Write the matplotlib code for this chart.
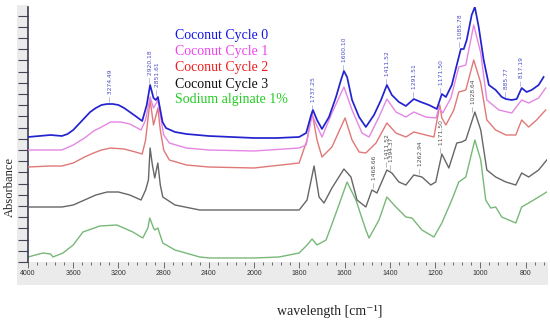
import numpy as np
import matplotlib
matplotlib.use("Agg")
import matplotlib.pyplot as plt
from matplotlib.patches import Rectangle
from matplotlib.ticker import FixedLocator, MultipleLocator, NullFormatter

# ---------------- data (absorbance, arbitrary stacked units) ----------------
wn_c0 = [4000, 3900, 3800, 3700, 3650, 3600, 3550, 3500, 3450, 3400, 3350, 3300, 3250, 3200,
         3150, 3100, 3050, 2990, 2950,
         2920, 2890, 2870, 2851, 2830, 2810, 2780, 2700, 2600, 2400, 2200, 2000, 1900,
         1801, 1770, 1748, 1740, 1722, 1700, 1669, 1638, 1616, 1603, 1589, 1567, 1536, 1506,
         1470, 1439, 1413, 1391, 1360, 1329, 1294, 1263, 1227, 1192, 1170, 1152, 1126, 1104,
         1086, 1073, 1060, 1038, 1024, 1007, 985, 962, 932, 905, 887, 861, 839, 817, 795,
         773, 742, 720]
ab_c0 = [125, 126, 127, 126, 128, 132, 138, 144, 150, 154, 157, 158, 158, 157,
         154, 150, 146, 141, 157,
         177, 164, 162, 165, 152, 140, 134, 130, 128, 126, 125, 124, 124,
         125, 129, 147, 152, 142, 133, 145, 165, 182, 191, 185, 162, 145, 135,
         147, 162, 177, 167, 160, 156, 163, 160, 157, 153, 168, 165, 177, 197,
         213, 213, 222, 247, 255, 235, 202, 177, 172, 165, 163, 162, 163, 174, 170,
         172, 177, 185]

wn_c1 = [4000, 3800, 3700, 3600, 3500, 3420, 3350, 3270, 3180, 3100, 3000, 2960, 2920, 2890,
         2851, 2830, 2800, 2750, 2600, 2400, 2000, 1801, 1770, 1744, 1700, 1656, 1603, 1567,
         1523, 1492, 1448, 1413, 1373, 1329, 1294, 1241, 1196, 1183, 1166, 1130, 1095, 1064,
         1029, 998, 971, 918, 861, 817, 786, 742, 711]
ab_c1 = [112, 112, 112, 117, 124, 131, 135, 140, 140, 138, 132, 142, 165, 154,
         162, 147, 127, 119, 114, 112, 111, 114, 117, 147, 125, 149, 175, 152,
         129, 125, 145, 163, 150, 145, 150, 145, 144, 154, 149, 164, 195, 197,
         237, 209, 162, 152, 149, 162, 159, 164, 174]

wn_c2 = [4000, 3800, 3700, 3600, 3500, 3420, 3350, 3270, 3150, 3050, 2990, 2960, 2920, 2890,
         2851, 2830, 2800, 2750, 2600, 2400, 2000, 1801, 1766, 1744, 1722, 1700, 1656, 1598,
         1567, 1536, 1506, 1461, 1413, 1373, 1329, 1294, 1241, 1205, 1179, 1170, 1152, 1117,
         1095, 1064, 1029, 998, 971, 932, 887, 843, 817, 786, 751, 711]
ab_c2 = [95, 96, 96, 99, 105, 109, 112, 114, 113, 110, 108, 122, 162, 137,
         154, 132, 112, 102, 97, 95, 94, 99, 122, 150, 122, 105, 115, 144,
         122, 110, 109, 119, 139, 129, 125, 130, 127, 125, 157, 144, 137, 152,
         170, 172, 202, 179, 142, 132, 127, 127, 142, 135, 142, 152]

wn_c3 = [4000, 3700, 3600, 3500, 3400, 3300, 3200, 3100, 3000, 2960, 2935, 2920, 2900, 2879,
         2852, 2830, 2808, 2700, 2481, 2000, 1801, 1766, 1735, 1713, 1691, 1656, 1603, 1572,
         1545, 1506, 1479, 1457, 1413, 1391, 1360, 1329, 1294, 1258, 1219, 1197, 1170, 1139,
         1104, 1082, 1064, 1024, 998, 971, 932, 887, 843, 817, 786, 742, 706]
ab_c3 = [55, 55, 57, 62, 67, 70, 70, 67, 62, 72, 82, 114, 97, 84,
         99, 77, 65, 57, 52, 52, 52, 62, 96, 65, 59, 74, 93, 85,
         62, 55, 72, 69, 92, 89, 80, 77, 87, 85, 77, 80, 108, 94,
         119, 120, 122, 150, 132, 92, 85, 80, 77, 89, 85, 92, 102]

wn_sa = [4000, 3868, 3800, 3779, 3691, 3600, 3514, 3364, 3214, 3073, 2985, 2940, 2923, 2890,
         2879, 2852, 2808, 2700, 2481, 2393, 2000, 1890, 1801, 1766, 1744, 1722, 1682, 1638,
         1589, 1550, 1506, 1492, 1448, 1413, 1373, 1329, 1302, 1258, 1205, 1170, 1126, 1095,
         1064, 1024, 998, 976, 954, 932, 905, 874, 843, 817, 786, 742, 706]
ab_sa = [5, 9, 8, 5, 9, 17, 30, 36, 37, 30, 24, 34, 44, 34,
         32, 34, 19, 12, 5, 4, 4, 5, 9, 17, 23, 17, 22, 49,
         80, 62, 32, 24, 42, 65, 55, 45, 44, 32, 25, 39, 62, 80,
         85, 122, 102, 62, 54, 55, 45, 42, 39, 55, 59, 65, 70]

series_names = ["Coconut Cycle 0", "Coconut Cycle 1", "Coconut Cycle 2",
                "Coconut Cycle 3", "Sodium alginate 1%"]
line_colors = ["#2323cf", "#e486e4", "#e07878", "#666666", "#78b878"]
line_widths = [1.25, 1.0, 1.0, 1.0, 1.0]
legend_colors = ["#1414e6", "#ee44ee", "#ee1c1c", "#111111", "#22cc22"]

peaks_c0 = [3274.49, 2920.18, 2851.61, 1737.25, 1600.10, 1411.52, 1291.51, 1171.50,
            1085.78, 885.77, 817.19]
peaks_c3 = [1468.66, 1411.52, 1394.37, 1262.94, 1171.50, 1028.64]

x_major = [4000, 3600, 3200, 2800, 2400, 2000, 1800, 1600, 1400, 1200, 1000, 800]

# ---------------- figure ----------------
W, H = 550, 325
fig = plt.figure(figsize=(W / 100, H / 100), dpi=100)

def px(x0, y0, x1, y1):
    return [x0 / W, 1 - y1 / H, (x1 - x0) / W, (y1 - y0) / H]

# gray frame bands (instrument-software look), drawn behind everything
bg = fig.add_axes([0, 0, 1, 1], zorder=-5)
bg.set_axis_off()
bg.set_xlim(0, W)
bg.set_ylim(H, 0)
bg.add_patch(Rectangle((17, 262), 531, 23, color="#ebebeb", lw=0))
bg.add_patch(Rectangle((17, 5), 11, 257, color="#ebebeb", lw=0))

ax = fig.add_axes(px(28, 7, 547, 262))
ax.patch.set_alpha(0)

def fwd(w):
    w = np.asarray(w, float)
    return np.where(w >= 2000, w / 400.0, 5 + (w - 2000) / 200.0)

def inv(t):
    t = np.asarray(t, float)
    return np.where(t >= 5, t * 400.0, 2000 + (t - 5) * 200.0)

ax.set_xscale("function", functions=(fwd, inv))

all_wn = [wn_c0, wn_c1, wn_c2, wn_c3, wn_sa]
all_ab = [ab_c0, ab_c1, ab_c2, ab_c3, ab_sa]
for i in [4, 3, 2, 1, 0]:
    ax.plot(all_wn[i], all_ab[i], color=line_colors[i], lw=line_widths[i], zorder=2 + (4 - i),
            solid_joinstyle="round")

ax.set_xlim(4000, 705)
ax.set_ylim(0, 255)

# peak labels
def label_peaks(peaks, wn, ab, color, off):
    for p in peaks:
        yv = np.interp(p, wn[::-1], ab[::-1])
        ax.text(p, yv + off, "\u2014 %.2f" % p, rotation=90, ha="center", va="bottom",
                fontsize=4.3, color=color, family="DejaVu Sans", zorder=10)

label_peaks(peaks_c0, wn_c0, ab_c0, "#4a4ac4", 2)
label_peaks(peaks_c3, wn_c3, ab_c3, "#505050", 3)

# axes styling
for s in ["top", "right", "bottom"]:
    ax.spines[s].set_visible(False)
ax.spines["left"].set_color("#3a3a55")
ax.spines["left"].set_linewidth(1.2)

ax.xaxis.set_major_locator(FixedLocator(x_major))
ax.xaxis.set_minor_locator(FixedLocator(list(range(3920, 2000, -80)) + list(range(1960, 700, -40))))
ax.set_xticklabels([str(v) for v in x_major])
ax.xaxis.set_minor_formatter(NullFormatter())
ax.tick_params(axis="x", which="major", direction="out", length=4, width=0.6,
               color="#555555", labelsize=5, labelcolor="#333333", pad=2)
ax.tick_params(axis="x", which="minor", direction="out", length=2, width=0.6, color="#555555")
for t in ax.get_xticklabels():
    t.set_family("Liberation Sans")

ax.yaxis.set_major_locator(MultipleLocator(11.2))
ax.yaxis.set_major_formatter(NullFormatter())
ax.tick_params(axis="y", which="major", direction="out", length=7, width=0.8, color="#444455")

# legend-like colored texts
leg_y = [35, 51, 67, 84, 100]
for name, c, yy in zip(series_names, legend_colors, leg_y):
    fig.text(175 / W, 1 - yy / H, name, color=c, fontsize=10, family="Liberation Serif",
             ha="left", va="center")

fig.text(10 / W, 1 - 187 / H, "Absorbance", rotation=90, fontsize=9, family="Liberation Serif",
         ha="center", va="center", color="#222222")
fig.text(330 / W, 1 - 312 / H, "wavelength [cm\u207b\u00b9]", fontsize=10,
         family=["Liberation Serif", "DejaVu Serif"],
         ha="center", va="center", color="#222222")

fig.savefig("out.png", dpi=100)
